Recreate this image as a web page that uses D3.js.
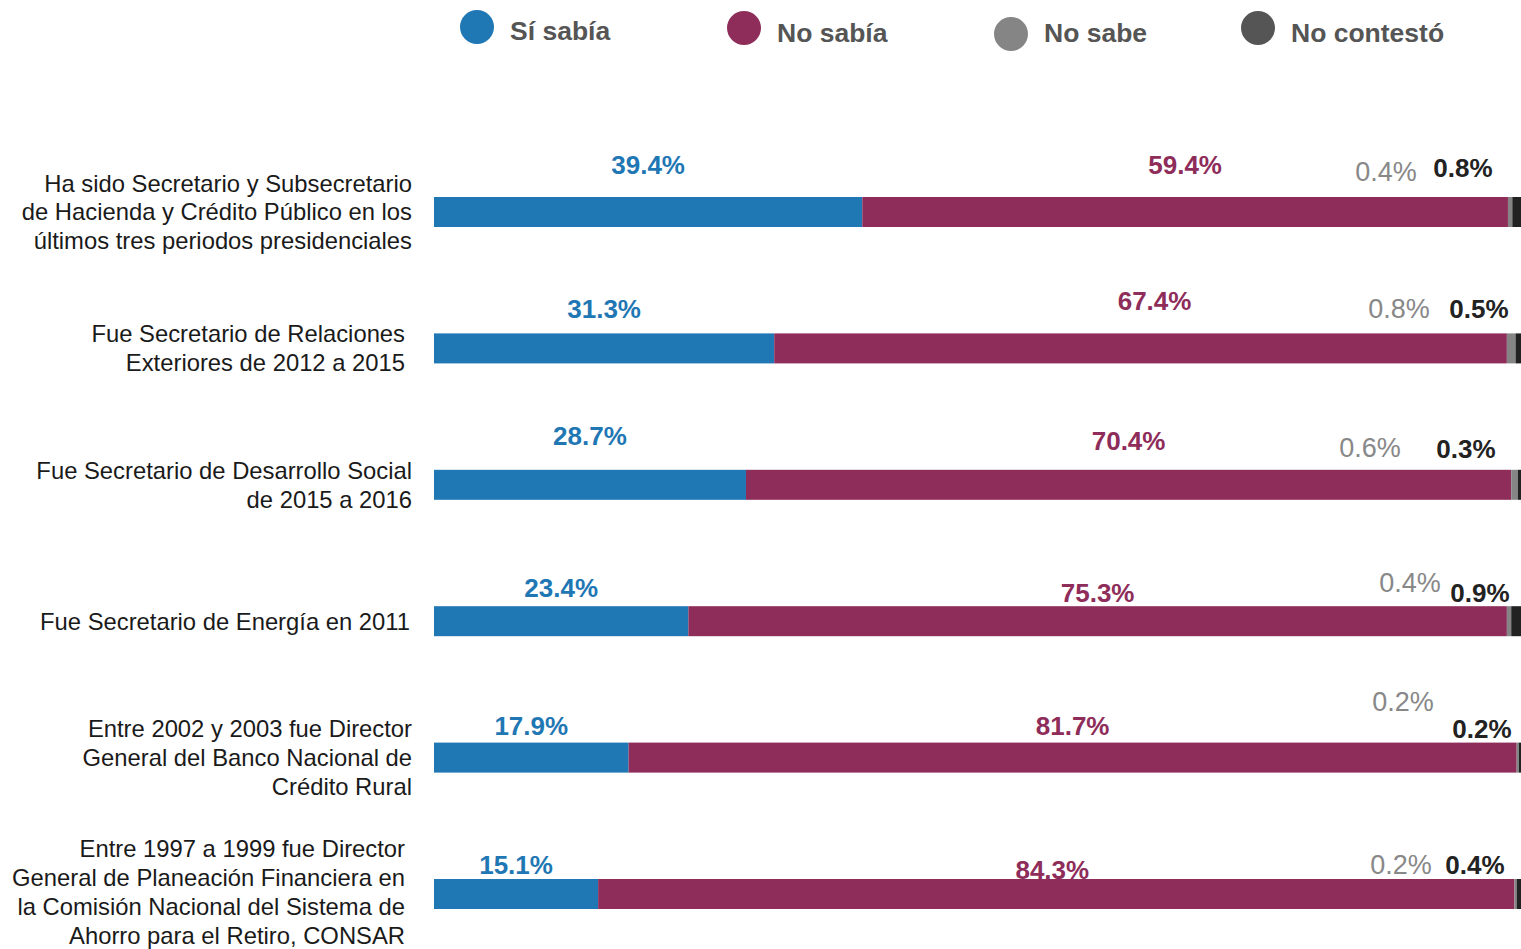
<!DOCTYPE html>
<html>
<head>
<meta charset="utf-8">
<script src="https://cdn.jsdelivr.net/npm/d3@7"></script>
<style>
  body { margin: 0; background: #fff; }
  svg { display: block; font-family: "Liberation Sans", Arial, Helvetica, sans-serif; }
  .cat { font-size: 23.8px; fill: #1a1a1a; }
  .val { font-size: 26px; font-weight: bold; }
  .legend-text { font-size: 26.5px; font-weight: bold; fill: #555; }
</style>
</head>
<body>
<div id="chart"></div>
<script>
// Data
const categories = [
    ["Ha sido Secretario y Subsecretario", "de Hacienda y Crédito Público en los", "últimos tres periodos presidenciales"],
    ["Fue Secretario de Relaciones", "Exteriores de 2012 a 2015"],
    ["Fue Secretario de Desarrollo Social", "de 2015 a 2016"],
    ["Fue Secretario de Energía en 2011"],
    ["Entre 2002 y 2003 fue Director", "General del Banco Nacional de", "Crédito Rural"],
    ["Entre 1997 a 1999 fue Director", "General de Planeación Financiera en", "la Comisión Nacional del Sistema de", "Ahorro para el Retiro, CONSAR"]
];
const seriesNames = ["Sí sabía", "No sabía", "No sabe", "No contestó"];
const siSabia = [39.4, 31.3, 28.7, 23.4, 17.9, 15.1];
const noSabia = [59.4, 67.4, 70.4, 75.3, 81.7, 84.3];
const noSabe = [0.4, 0.8, 0.6, 0.4, 0.2, 0.2];
const noContesto = [0.8, 0.5, 0.3, 0.9, 0.2, 0.4];

// Layout tweaks for the value labels (offsets from bar top / right edge)
const labelDy = [
    [-32, -32, -25, -29],
    [-25, -33, -25, -25],
    [-34, -29, -22, -21],
    [-18, -13, -24, -13],
    [-17, -17, -41, -14],
    [-14, -9, -14, -14]
];
const magentaDx = [0, 14, 0, 0, 0, -4];
const grayDx = [-135, -122, -151, -111, -118, -120];
const blackDx = [-58, -42, -55, -41, -39, -46];
const catRight = [412, 405, 412, 410, 412, 405];
const catShift = [0, 0, 0, 0, 0, -2];

const width = 1521, height = 949;
const barColors = ["#1f77b4", "#8e2c5a", "#858585", "#222"];
const labelColors = ["#1f77b4", "#8e2c5a", "#888", "#222"];
const legendColors = ["#1f77b4", "#8e2c5a", "#858585", "#555"];

const svg = d3.select("#chart")
    .append("svg")
    .attr("width", width)
    .attr("height", height);

const x = d3.scaleLinear().domain([0, 100]).range([434, 1521]);
const y = d3.scalePoint().domain(d3.range(categories.length)).range([212, 894]);
const barH = 30;

const rows = categories.map((c, i) => {
    const vals = [siSabia[i], noSabia[i], noSabe[i], noContesto[i]];
    let acc = 0;
    const segs = vals.map((v, k) => {
        const s = { k: k, v: v, x0: acc, x1: acc + v };
        acc += v;
        return s;
    });
    return { i: i, lines: c, segs: segs };
});

// Bars
rows.forEach(r => {
    const top = y(r.i) - barH / 2;
    const g = svg.append("g");
    g.selectAll("rect")
        .data(r.segs)
        .join("rect")
        .attr("x", d => x(d.x0))
        .attr("y", top)
        .attr("width", d => Math.max(0, x(Math.min(d.x1, 100)) - x(d.x0)))
        .attr("height", barH)
        .attr("fill", d => barColors[d.k]);

    // Category label
    const n = r.lines.length;
    const lh = 28.8;
    const t = svg.append("text")
        .attr("class", "cat")
        .attr("text-anchor", "end");
    r.lines.forEach((line, j) => {
        t.append("tspan")
            .attr("x", catRight[r.i])
            .attr("y", y(r.i) + catShift[r.i] + (j - (n - 1) / 2) * lh)
            .attr("dy", "0.35em")
            .text(line);
    });

    // Value labels
    r.segs.forEach(s => {
        let cx;
        if (s.k === 0) cx = x((s.x0 + s.x1) / 2);
        else if (s.k === 1) cx = x((s.x0 + s.x1) / 2) + magentaDx[r.i];
        else if (s.k === 2) cx = x(100) + grayDx[r.i];
        else cx = x(100) + blackDx[r.i];
        svg.append("text")
            .attr("class", "val")
            .attr("x", cx)
            .attr("y", top + labelDy[r.i][s.k])
            .attr("dy", "0.35em")
            .attr("text-anchor", "middle")
            .attr("fill", labelColors[s.k])
            .style("font-weight", s.k === 2 ? "normal" : "bold")
            .style("font-size", s.k === 2 ? "27px" : null)
            .text(s.v.toFixed(1) + "%");
    });
});

// Legend
const legendX = [477, 744, 1011, 1258];
const legendY = [27, 28, 34, 28];
seriesNames.forEach((name, k) => {
    svg.append("circle")
        .attr("cx", legendX[k])
        .attr("cy", legendY[k])
        .attr("r", 17)
        .attr("fill", legendColors[k]);
    svg.append("text")
        .attr("class", "legend-text")
        .attr("x", legendX[k] + 33)
        .attr("y", k === 0 ? 31 : 33)
        .attr("dy", "0.35em")
        .text(name);
});
</script>
</body>
</html>
